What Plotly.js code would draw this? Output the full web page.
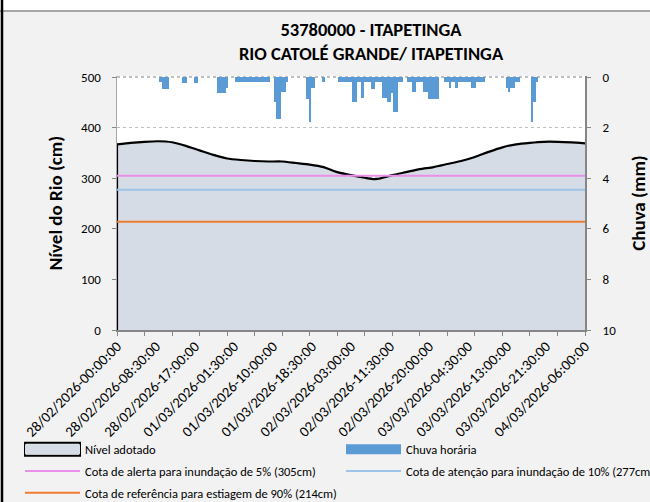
<!DOCTYPE html>
<html>
<head>
<meta charset="utf-8">
<script src="https://cdn.plot.ly/plotly-3.0.1.min.js"></script>
<style>html,body{margin:0;padding:0;background:#f2f2f2;}#chart{width:650px;height:502px;}</style>
</head>
<body>
<div id="chart"></div>
<script>
// ---- data ----
const startDate = Date.UTC(2026, 1, 28, 0, 0, 0);
// level (Nível adotado), hours since 28/02/2026 00:00 -> cm
const levelHours = [0,3,6,9,12,15,18,21,24,27,30,33,36,39,42,45,48,51,54,56,57,60,63,66,69,72,75,78,81,84,87,90,93,96,99,102];
const levelCm =    [367,370,372,373,371,364,355,346,339,336,334,333,333,330,327,322,312,306,301,298,299,306,312,318,322,328,334,342,352,361,367,370,372,372,371,369];
// hourly rain (Chuva horária), hours since start -> mm
const rainHours = [9.5,10,10.5,11,14.5,15,17,17.5,22,22.5,23,23.5,24,
  26,26.5,27,27.5,28,28.5,29,29.5,30,30.5,31,31.5,32,32.5,33,
  34.5,35,35.5,36,36.5,37,41.5,42,42.5,43,45,
  48.5,49,49.5,50,50.5,51,51.5,52,52.5,53,53.5,54,54.5,55,55.5,56,56.5,57,57.5,
  58,58.5,59,59.5,60,60.5,61,61.5,62,63.5,64,64.5,65,65.5,66,66.5,67,67.5,
  68,68.5,69,69.5,70,71.5,72,72.5,73,73.5,74,74.5,75,75.5,76,76.5,77,77.5,78,
  78.5,79,79.5,80,85,85.5,86,86.5,87,87.5,90.5,91,91.5];
const rainMm = [0.21,0.46,0.46,0.46,0.24,0.24,0.22,0.22,0.62,0.62,0.62,0.62,0.43,
  0.2,0.2,0.2,0.2,0.2,0.2,0.2,0.2,0.2,0.2,0.2,0.2,0.2,0.2,0.2,
  1.0,1.64,1.64,0.6,0.6,0.2,0.85,1.78,0.43,0.43,0.2,
  0.2,0.2,0.2,0.2,0.2,0.2,1.0,1.0,0.2,0.2,0.83,0.2,0.2,0.2,0.46,0.46,0.2,0.2,0.2,
  0.83,0.83,1.0,1.0,0.65,1.39,1.39,0.2,0.2,0.2,0.2,0.6,0.6,0.2,0.2,0.2,0.6,0.6,
  0.85,0.85,0.85,0.85,0.85,0.2,0.2,0.43,0.2,0.2,0.43,0.2,0.2,0.2,0.2,0.2,0.2,0.43,0.43,
  0.2,0.2,0.2,0.2,0.43,0.6,0.43,0.43,0.2,0.2,1.78,1.0,0.2];
// reference levels (cm)
const cotaAlerta = 305, cotaAtencao = 277, cotaReferencia = 214;
const seriesNames = ['Nível adotado','Chuva horária','Cota de alerta para inundação de 5% (305cm)','Cota de atenção para inundação de 10% (277cm)','Cota de referência para estiagem de 90% (214cm)'];
// x tick labels every 8.5 h
const tickHours = [0,8.5,17,25.5,34,42.5,51,59.5,68,76.5,85,93.5,102];
const tickLabels = ['28/02/2026-00:00:00','28/02/2026-08:30:00','28/02/2026-17:00:00','01/03/2026-01:30:00','01/03/2026-10:00:00','01/03/2026-18:30:00','02/03/2026-03:00:00','02/03/2026-11:30:00','02/03/2026-20:00:00','03/03/2026-04:30:00','03/03/2026-13:00:00','03/03/2026-21:30:00','04/03/2026-06:00:00'];
const chartTitle = '53780000 - ITAPETINGA<br>RIO CATOLÉ GRANDE/ ITAPETINGA';

// ---- helpers ----
function toDate(h){ return new Date(startDate + h*3600000).toISOString().replace('T',' ').slice(0,19); }
const firstH = levelHours[0], lastH = levelHours[levelHours.length-1];
const xSpan = [toDate(firstH), toDate(lastH)];
const baseFont = 'Carlito, Lato, sans-serif';
const areaFill = '#d6dce5', rainColor = '#5b9bd5';

const traces = [
  {x: levelHours.map(toDate), y: levelCm, type:'scatter', mode:'lines', fill:'tozeroy',
   fillcolor: areaFill, line:{color:'#000000', width:2.2, shape:'spline', smoothing:0.6},
   showlegend:false, legendgroup:'nivel', hoverinfo:'skip'},
  {x: [toDate(firstH), toDate(firstH)], y:[0, levelCm[0]], type:'scatter', mode:'lines',
   line:{color:'#000000', width:2.2}, showlegend:false, hoverinfo:'skip'},
  {x: xSpan, y:[cotaAlerta,cotaAlerta], type:'scatter', mode:'lines', line:{color:'#e98fe9', width:2},
   name: seriesNames[2], legendrank:3, legendgroup:'alerta', legend:'legend'},
  {x: xSpan, y:[cotaAtencao,cotaAtencao], type:'scatter', mode:'lines', line:{color:'#9dc3e6', width:2},
   name: seriesNames[3], legendrank:4, legendgroup:'atencao', legend:'legend2'},
  {x: xSpan, y:[cotaReferencia,cotaReferencia], type:'scatter', mode:'lines', line:{color:'#ed7d31', width:2},
   name: seriesNames[4], legendrank:5, legendgroup:'referencia', legend:'legend'},
  {x: rainHours.map(toDate), y: rainMm, type:'bar', yaxis:'y2', width: 1800000,
   marker:{color: rainColor, line:{width:0}}, showlegend:false, legendgroup:'chuva'},
  // legend entries (wide swatches like the original legend)
  {x:[null], y:[null], type:'scatter', mode:'lines', line:{color: areaFill, width:12},
   name: seriesNames[0], legendrank:1, legendgroup:'nivel', legend:'legend', hoverinfo:'skip'},
  {x:[null], y:[null], type:'scatter', mode:'lines', yaxis:'y2', line:{color: rainColor, width:14},
   name: seriesNames[1], legendrank:2, legendgroup:'chuva', legend:'legend2', hoverinfo:'skip'}
];

// plot area in pixels: left 117, right 585, top 76, bottom 330
const PL = 117, PW = 468, PT = 76, PH = 254;
function px(x){ return (x - PL)/PW; }
function py(y){ return (PT + PH - y)/PH; }
const legCommon = {xref:'paper', yref:'paper', xanchor:'left', yanchor:'top', orientation:'v',
  traceorder:'grouped', tracegroupgap:2.5, itemwidth:55, bgcolor:'rgba(0,0,0,0)', borderwidth:0,
  font:{family: baseFont, size:12.5, color:'#000000'}};

const layout = {
  width:650, height:502,
  paper_bgcolor:'#f2f2f2', plot_bgcolor:'#ffffff',
  margin:{l:PL, r:650-PL-PW, t:PT, b:502-PT-PH, autoexpand:false},
  font:{family: baseFont, size:13, color:'#000000'},
  title:{text: chartTitle, x: 371/650, xanchor:'center', xref:'container', y: 1-36/502, yanchor:'top', yref:'container',
         font:{family: baseFont, size:18.5, color:'#000000', weight:'bold'}},
  bargap:0,
  xaxis:{type:'date', range:xSpan, tickvals: tickHours.map(toDate), ticktext: tickLabels, tickangle:-45,
         ticks:'', showgrid:false, showline:true, linecolor:'#868686', linewidth:2,
         tickfont:{family: baseFont, size:14.67, color:'#000000'},
         minor:{dtick: 6*3600000, tick0: toDate(0), ticks:'outside', ticklen:4, tickcolor:'#868686', showgrid:false}},
  yaxis:{range:[0,502], tickvals:[0,100,200,300,400,500], showgrid:true, gridcolor:'#bfbfbf', griddash:'dot', gridwidth:1.5,
         showline:true, linecolor:'#a6a6a6', linewidth:1.5, ticks:'outside', ticklen:4, tickcolor:'#868686',
         ticklabelstandoff:8, zeroline:false, tickfont:{family: baseFont, size:13},
         title:{text:'Nível do Rio (cm)', font:{family: baseFont, size:19, weight:'bold'}, standoff:13}},
  yaxis2:{range:[10,-0.04], tickvals:[0,2,4,6,8,10], overlaying:'y', side:'right', showgrid:false, showline:true,
          linecolor:'#868686', linewidth:2, ticks:'outside', ticklen:4, tickcolor:'#868686', zeroline:false,
          ticklabelstandoff:9, tickfont:{family: baseFont, size:13},
          title:{text:'Chuva (mm)', font:{family: baseFont, size:19, weight:'bold'}, standoff:17}},
  showlegend:true,
  legend: Object.assign({}, legCommon, {x: px(20), y: py(434.5)}),
  legend2: Object.assign({}, legCommon, {x: px(341), y: py(434.5)}),
  shapes:[
    {type:'rect', xref:'paper', yref:'paper', x0:px(0), x1:px(650), y0:py(12), y1:py(0),
     fillcolor:'#ffffff', line:{width:0}, layer:'below'},
    {type:'line', xref:'paper', yref:'paper', x0:px(0), x1:px(650), y0:py(11), y1:py(11),
     line:{color:'#a6a6a6', width:2}},
    {type:'line', xref:'paper', yref:'paper', x0:px(2), x1:px(2), y0:py(502), y1:py(0),
     line:{color:'#000000', width:2.5}}
  ]
};

Plotly.newPlot('chart', traces, layout, {staticPlot:true, displayModeBar:false}).then(function(gd){
  // outline the "Nível adotado" legend swatch with a black border, as in the original legend
  const sw = gd.querySelector('.legend .traces .legendlines path');
  if(!sw) return;
  const r = sw.getBoundingClientRect();
  const half = 6.5;
  const shapes = layout.shapes.concat([{type:'rect', xref:'paper', yref:'paper',
    x0:px(r.left), x1:px(r.right), y0:py(r.top + half), y1:py(r.top - half),
    line:{color:'#000000', width:2}, fillcolor:'rgba(0,0,0,0)'}]);
  return Plotly.relayout(gd, {shapes: shapes});
});
</script>
</body>
</html>
